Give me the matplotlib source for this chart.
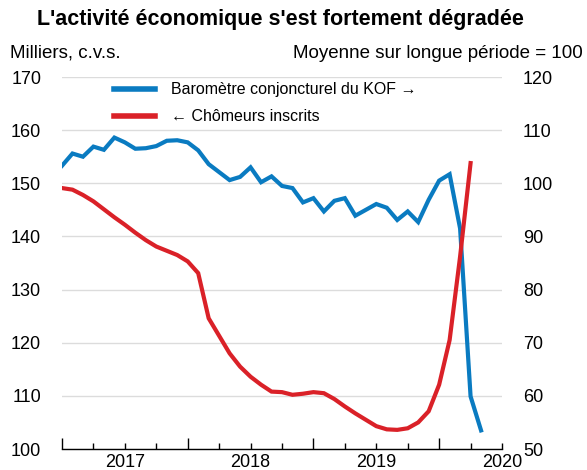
import numpy as np
import matplotlib.pyplot as plt

plt.rcParams['font.family'] = ['Liberation Sans', 'DejaVu Sans']

# Donnees mensuelles, janvier 2017 = mois 0
kof = [103.3, 105.6, 105.0, 106.9, 106.3, 108.6, 107.7, 106.5, 106.6, 107.0,
       108.0, 108.1, 107.7, 106.2, 103.6, 102.1, 100.6, 101.2, 103.0, 100.2,
       101.3, 99.5, 99.1, 96.4, 97.2, 94.7, 96.7, 97.2, 93.9, 95.0,
       96.1, 95.4, 93.1, 94.7, 92.7, 96.9, 100.5, 101.7, 91.5, 59.9, 53.5]
chomeurs = [149.1, 148.8, 147.8, 146.6, 145.1, 143.6, 142.2, 140.7, 139.3, 138.1,
            137.3, 136.5, 135.3, 133.1, 124.6, 121.3, 118.0, 115.5, 113.6, 112.1,
            110.8, 110.7, 110.2, 110.4, 110.7, 110.5, 109.4, 108.0, 106.7, 105.5,
            104.3, 103.7, 103.6, 103.9, 105.0, 107.1, 112.1, 120.5, 136.2, 153.8]
annees = ['2017', '2018', '2019', '2020']

mois_kof = np.arange(len(kof))
mois_ch = np.arange(len(chomeurs))

bleu = '#0a7bc1'
rouge = '#da2128'

fig = plt.figure(figsize=(5.87, 4.70), dpi=100)
ax = fig.add_axes([62 / 587, 1 - 449 / 470, 440 / 587, 372 / 470])
ax2 = ax.twinx()

# grille sur l'axe de droite (en dessous), courbe rouge au dessus
ax.set_zorder(ax2.get_zorder() + 1)
ax.patch.set_visible(False)

l1, = ax2.plot(mois_kof, kof, color=bleu, lw=3.0, solid_joinstyle='miter',
               label='Baromètre conjoncturel du KOF →')
l2, = ax.plot(mois_ch, chomeurs, color=rouge, lw=3.0, solid_joinstyle='miter',
              label='← Chômeurs inscrits')

ax.set_xlim(0, 42)
ax.set_ylim(100, 170)
ax2.set_ylim(50, 120)
ax.set_yticks(np.arange(100, 171, 10))
ax2.set_yticks(np.arange(50, 121, 10))
ax2.yaxis.grid(True, color='#dcdcdc', lw=1.0)
ax2.set_axisbelow(True)

for a in (ax, ax2):
    for s in a.spines.values():
        s.set_visible(False)
ax.spines['bottom'].set_visible(True)
ax.spines['bottom'].set_linewidth(1.0)

ax.tick_params(axis='y', length=0, pad=15, labelsize=13)
ax2.tick_params(axis='y', length=0, pad=15, labelsize=13)

# ticks x : annees (longs), trimestres (courts)
ax.set_xticks([0, 12, 24, 36], labels=[])
ax.set_xticks(np.arange(0, 43, 3), minor=True)
ax.tick_params(axis='x', which='major', direction='in', length=8, width=1)
ax.tick_params(axis='x', which='minor', direction='in', length=4, width=1)
for i, a in enumerate(annees):
    ax.text(6 + 12 * i, -0.014, a, transform=ax.get_xaxis_transform(),
            ha='center', va='top', fontsize=13)

fig.text(280 / 587, 1 - 19 / 470, "L'activité économique s'est fortement dégradée",
         ha='center', va='center', fontsize=15.5, fontweight='bold')
fig.text(10 / 587, 1 - 53 / 470, 'Milliers, c.v.s.', ha='left', va='center', fontsize=13.5)
fig.text(583 / 587, 1 - 53 / 470, 'Moyenne sur longue période = 100',
         ha='right', va='center', fontsize=13.5)

leg = ax.legend(handles=[l1, l2], loc='upper left', bbox_to_anchor=(0.085, 1.024),
                frameon=False, fontsize=11.5, handlelength=2.6, handletextpad=1.0,
                labelspacing=0.75)
for h in leg.legend_handles:
    h.set_linewidth(4)

fig.savefig('out.png', dpi=100)
